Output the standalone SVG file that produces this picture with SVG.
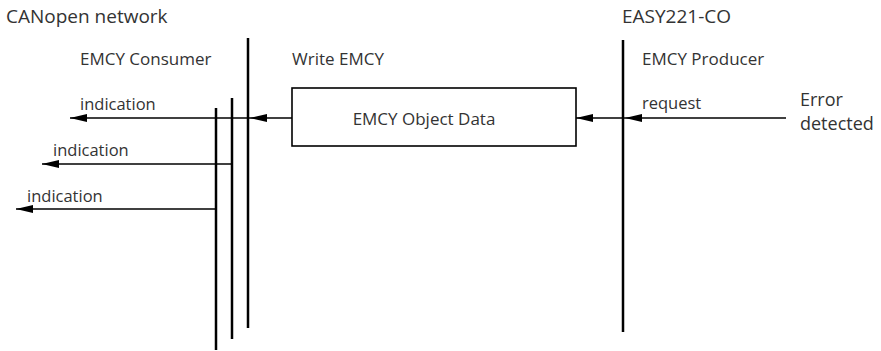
<svg xmlns="http://www.w3.org/2000/svg" width="881" height="351" viewBox="0 0 881 351">
  <defs>
    <marker id="arr" viewBox="0 0 17 8" refX="17" refY="4" markerWidth="17" markerHeight="8" markerUnits="userSpaceOnUse" orient="auto">
      <path d="M0,0 L17,4 L0,8 z" fill="#000"/>
    </marker>
  </defs>
  <style>
    text { font-family: "Open Sans", "Noto Sans", "Liberation Sans", sans-serif; fill: #333; }
    .big { font-size: 19px; }
    .lbl { font-size: 17px; }
    .sm { font-size: 16.5px; }
    .err { font-size: 18px; }
    .life { stroke: #000; stroke-width: 2.5; fill: none; }
    .box { stroke: #000; stroke-width: 1.6; fill: #fff; }
    .conn { stroke: #000; stroke-width: 1.6; fill: none; marker-end: url(#arr); }
  </style>
  <rect width="881" height="351" fill="#fff"/>

  <g id="canopen-network">
    <text class="big" x="6" y="23">CANopen network</text>
  </g>
  <g id="easy221-co">
    <text class="big" x="622" y="23">EASY221-CO</text>
  </g>

  <g id="emcy-consumer">
    <text class="lbl" x="80" y="65">EMCY Consumer</text>
    <line class="life" x1="248" y1="38" x2="248" y2="328"/>
    <line class="life" x1="232" y1="98" x2="232" y2="339"/>
    <line class="life" x1="216" y1="108" x2="216" y2="350"/>
  </g>

  <g id="write-emcy">
    <text class="lbl" x="292" y="65">Write EMCY</text>
  </g>

  <g id="emcy-object-data">
    <rect class="box" x="292" y="88" width="284" height="58"/>
    <text class="lbl" x="424" y="125" text-anchor="middle">EMCY Object Data</text>
  </g>

  <g id="emcy-producer">
    <text class="lbl" x="642" y="65">EMCY Producer</text>
    <line class="life" x1="623" y1="40" x2="623" y2="332"/>
  </g>

  <g id="error-detected">
    <text class="err" x="800" y="106">Error</text>
    <text class="err" x="800" y="130">detected</text>
  </g>

  <g id="connectors">
    <path class="conn" d="M786,118 L625,118"/>
    <path class="conn" d="M625,118 L576,118"/>
    <path class="conn" d="M292,118 L250,118"/>
    <path class="conn" d="M250,118 L70,118"/>
    <path class="conn" d="M232,164 L42,164"/>
    <path class="conn" d="M216,209 L16,209"/>
    <text class="sm" x="642" y="109">request</text>
    <text class="sm" x="80" y="110">indication</text>
    <text class="sm" x="53" y="156">indication</text>
    <text class="sm" x="27" y="202">indication</text>
  </g>
</svg>
